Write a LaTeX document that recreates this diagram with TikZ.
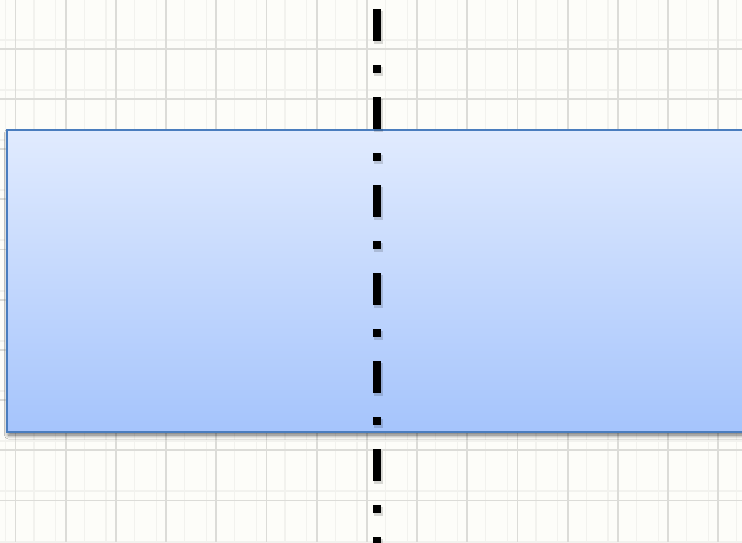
\documentclass[tikz,border=0pt]{standalone}
\usetikzlibrary{shadows.blur}
\definecolor{bgcol}{HTML}{FDFDF9}
\definecolor{majgrid}{HTML}{DCDCD8}
\definecolor{mingrid}{HTML}{F2F2EE}
\definecolor{boxtop}{HTML}{E1EBFE}
\definecolor{boxbot}{HTML}{A5C4FC}
\definecolor{boxedge}{HTML}{4A7DBE}
\tikzset{
  majorline/.style={majgrid, line width=1.8pt},
  minorline/.style={mingrid, line width=1.2pt},
  bandbox/.style={draw=boxedge, line width=1.8pt, top color=boxtop, bottom color=boxbot,
    blur shadow={shadow xshift=1.5pt, shadow yshift=-3pt, shadow blur radius=4pt, shadow blur steps=8, shadow opacity=60}},
  axisline/.style={black, line width=8pt, dash pattern=on 32pt off 24pt on 8pt off 24pt},
  axisshadow/.style={black, opacity=0.15, line width=9pt, dash pattern=on 33pt off 23pt on 9pt off 23pt}
}
\begin{document}
\begin{tikzpicture}[x=1pt,y=-1pt]
\useasboundingbox (0,0) rectangle (742,542);
\clip (0,0) rectangle (742,542);
\fill[bgcol] (0,0) rectangle (742,542);
% minor grid
\foreach \k in {0,...,14} {
  \draw[minorline] ({5.5+50.2*\k},0) -- ({5.5+50.2*\k},542);
  \draw[minorline] ({34+50.2*\k},0) -- ({34+50.2*\k},542);
}
\foreach \k in {0,...,11} {
  \draw[minorline] (0,{-11+50.2*\k}) -- (742,{-11+50.2*\k});
  \draw[minorline] (0,{40+50.2*\k}) -- (742,{40+50.2*\k});
}
% major grid
\foreach \k in {0,...,14} {
  \draw[majorline] ({15.5+50.2*\k},0) -- ({15.5+50.2*\k},542);
}
\foreach \k in {0,...,10} {
  \draw[majorline] (0,{-1.5+50.2*\k}) -- (742,{-1.5+50.2*\k});
}
% band rectangle
\path[bandbox] (7,130) rectangle (760,432);
% dash-dot axis
\draw[axisshadow] (378,11) -- (378,548);
\draw[axisline] (377,9) -- (377,545);
\end{tikzpicture}
\end{document}
